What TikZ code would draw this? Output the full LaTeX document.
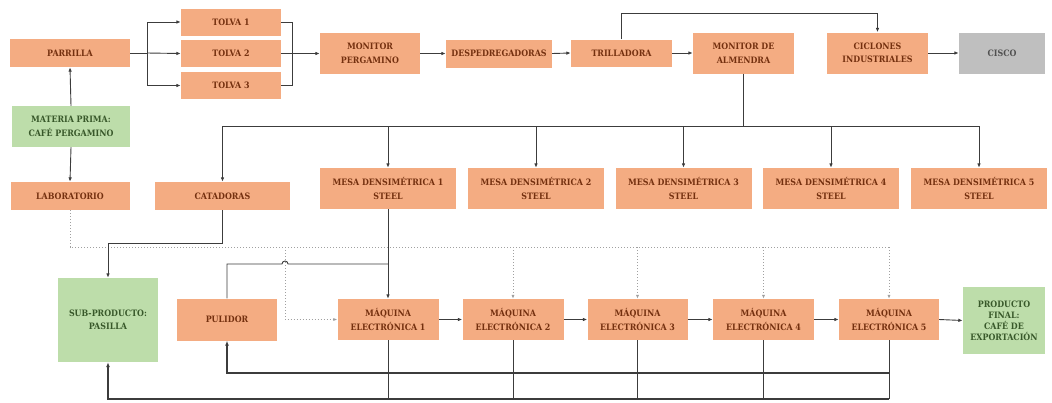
\documentclass[tikz,border=0pt]{standalone}
\usepackage{fontspec}
\setmainfont{DejaVu Serif Condensed}
\usetikzlibrary{arrows.meta}
\definecolor{ofill}{HTML}{F4AC82}
\definecolor{otext}{HTML}{74300F}
\definecolor{gfill}{HTML}{BDDDAA}
\definecolor{gtext}{HTML}{38582A}
\definecolor{cfill}{HTML}{BFBFBF}
\definecolor{ctext}{HTML}{505050}
\definecolor{lcol}{HTML}{3C3C3C}
\definecolor{dcol}{HTML}{A0A0A0}
\tikzset{
  sz/.style 2 args={minimum width=#1pt, minimum height=#2pt},
  basebox/.style={draw=none, align=center, inner sep=1pt, font=\bfseries\fontsize{8.8}{13.5}\selectfont},
  ob/.style={basebox, fill=ofill, text=otext},
  gb/.style={basebox, fill=gfill, text=gtext},
  cb/.style={basebox, fill=cfill, text=ctext},
  conn/.style={draw=lcol, line width=0.9pt},
  arr/.style={conn, -{Latex[length=4.5pt,width=3.6pt]}},
  ret/.style={draw=lcol, line width=1.4pt},
  retarr/.style={ret, -{Latex[length=5pt,width=4pt]}},
  dots/.style={draw=dcol, line width=1pt, dotted},
  dotarr/.style={dots, -{Latex[length=4pt,width=3.2pt]}}
}
\begin{document}
\begin{tikzpicture}[x=1pt,y=-1pt]
\useasboundingbox (0,0) rectangle (1052,402);
% top row
\node[ob, sz={120}{28}] (parrilla) at (70,53) {PARRILLA};
\node[ob, sz={100}{27}] (tolva1) at (231,22) {TOLVA 1};
\node[ob, sz={100}{27}] (tolva2) at (231,53.5) {TOLVA 2};
\node[ob, sz={100}{27}] (tolva3) at (231,85.5) {TOLVA 3};
\node[ob, sz={100}{41}] (monperg) at (370,53.5) {MONITOR\\PERGAMINO};
\node[ob, sz={106}{28}] (desp) at (499,53.5) {DESPEDREGADORAS};
\node[ob, sz={101}{27}] (trill) at (621.5,53) {TRILLADORA};
\node[ob, sz={101}{41}] (monalm) at (743.5,53) {MONITOR DE\\ALMENDRA};
\node[ob, sz={101}{41}] (ciclon) at (877.5,53) {CICLONES\\INDUSTRIALES};
\node[cb, sz={86}{41}] (cisco) at (1002,53) {CISCO};
% left column
\node[gb, sz={118}{41}] (materia) at (71,126.5) {MATERIA PRIMA:\\CAFÉ PERGAMINO};
\node[ob, sz={119}{28}] (lab) at (70,196) {LABORATORIO};
\node[ob, sz={135}{28}] (catad) at (222.5,196) {CATADORAS};
% mesas
\node[ob, sz={136}{41}] (mesa1) at (388,188.5) {MESA DENSIMÉTRICA 1\\STEEL};
\node[ob, sz={136}{41}] (mesa2) at (536,188.5) {MESA DENSIMÉTRICA 2\\STEEL};
\node[ob, sz={136}{41}] (mesa3) at (683.5,188.5) {MESA DENSIMÉTRICA 3\\STEEL};
\node[ob, sz={136}{41}] (mesa4) at (831,188.5) {MESA DENSIMÉTRICA 4\\STEEL};
\node[ob, sz={136}{41}] (mesa5) at (979,188.5) {MESA DENSIMÉTRICA 5\\STEEL};
% bottom row
\node[gb, sz={100}{84}] (subprod) at (108,320) {SUB-PRODUCTO:\\PASILLA};
\node[ob, sz={100}{42}] (pulidor) at (227,319.5) {PULIDOR};
\node[ob, sz={101}{41}] (maq1) at (388,319.5) {MÁQUINA\\ELECTRÓNICA 1};
\node[ob, sz={101}{41}] (maq2) at (513,319.5) {MÁQUINA\\ELECTRÓNICA 2};
\node[ob, sz={100}{41}] (maq3) at (637.5,319.5) {MÁQUINA\\ELECTRÓNICA 3};
\node[ob, sz={101}{41}] (maq4) at (763.5,319.5) {MÁQUINA\\ELECTRÓNICA 4};
\node[ob, sz={100}{41}] (maq5) at (889,319.5) {MÁQUINA\\ELECTRÓNICA 5};
\node[gb, sz={82}{67}, font=\bfseries\fontsize{8.8}{11}\selectfont] (prod) at (1004,320.5) {PRODUCTO\\FINAL:\\CAFÉ DE\\EXPORTACIÓN};

% coordinates
\coordinate (split) at (147,53);
\coordinate (merge) at (292,53.5);
\coordinate (tr) at (621.5,13);
\coordinate (bus) at (743.5,126);
\coordinate (labd) at (70,247);
\coordinate (dotend) at (889,247);
\coordinate (catd) at (222.5,243);
\coordinate (puljoin) at (388,264);
\coordinate (r1) at (889,373);
\coordinate (r2) at (889,399);

% top connectors
\draw[conn] (parrilla.east) -- (split);
\draw[arr] (split) |- (tolva1.west);
\draw[arr] (split) -- (tolva2.west);
\draw[arr] (split) |- (tolva3.west);
\draw[conn] (tolva1.east) -| (merge);
\draw[conn] (tolva3.east) -| (merge);
\draw[arr] (tolva2.east) -- (monperg.west);
\draw[arr] (monperg.east) -- (desp.west);
\draw[arr] (desp.east) -- (trill.west);
\draw[arr] (trill.east) -- (monalm.west);
\draw[arr] (trill.north) -- (tr) -| (ciclon.north);
\draw[arr] (ciclon.east) -- (cisco.west);
\draw[arr] (materia.north) -- (parrilla.south);
\draw[arr] (materia.south) -- (lab.north);

% distribution bus
\draw[conn] (monalm.south) -- (bus);
\draw[arr] (bus) -| (catad.north);
\draw[arr] (bus) -| (mesa1.north);
\draw[arr] (bus) -| (mesa2.north);
\draw[arr] (bus) -| (mesa3.north);
\draw[arr] (bus) -| (mesa4.north);
\draw[arr] (bus) -| (mesa5.north);

% dotted laboratory line
\draw[dots] (lab.south) -- (labd) -- (dotend);
\draw[dotarr] (285,247) -- (285,319.5) -- (maq1.west);
\draw[dotarr] (maq2.north |- labd) -- (maq2.north);
\draw[dotarr] (maq3.north |- labd) -- (maq3.north);
\draw[dotarr] (maq4.north |- labd) -- (maq4.north);
\draw[dotarr] (dotend) -- (maq5.north);

% catadoras to sub-producto
\draw[arr] (catad.south) -- (catd) -| (subprod.north);

% pulidor and mesa 1 into maquina 1
\draw[conn] (pulidor.north) |- (282,264) arc[start angle=180, end angle=0, radius=3pt] -- (puljoin);
\draw[arr] (mesa1.south) -- (maq1.north);

% maquinas chain
\draw[arr] (maq1.east) -- (maq2.west);
\draw[arr] (maq2.east) -- (maq3.west);
\draw[arr] (maq3.east) -- (maq4.west);
\draw[arr] (maq4.east) -- (maq5.west);
\draw[arr] (maq5.east) -- (prod.west);

% returns
\draw[conn] (maq1.south) -- (maq1.south |- r2);
\draw[conn] (maq2.south) -- (maq2.south |- r2);
\draw[conn] (maq3.south) -- (maq3.south |- r2);
\draw[conn] (maq4.south) -- (maq4.south |- r2);
\draw[conn] (maq5.south) -- (r2);
\draw[retarr] (r1) -| (pulidor.south);
\draw[retarr] (r2) -| (subprod.south);
\end{tikzpicture}
\end{document}
